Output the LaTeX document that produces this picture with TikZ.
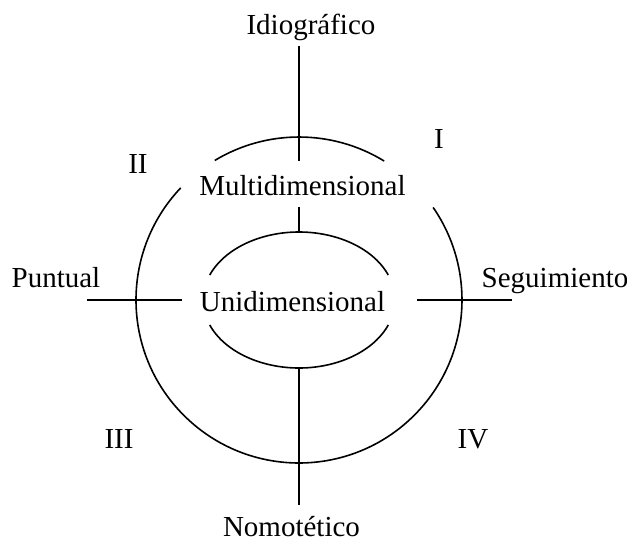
\documentclass[tikz,border=0pt]{standalone}
\usepackage{fontspec}
\setmainfont{Liberation Serif}
\tikzset{
    % Lines
    ring/.style={line width=0.8pt},
    axis line/.style={line width=0.8pt},
    %
    % Labels
    pole label/.style={anchor=base,inner sep=0pt,font=\fontsize{14.5}{17}\selectfont},
    level label/.style={pole label},
    quadrant label/.style={pole label}
}

\begin{document}
\begin{tikzpicture}[x=0.5pt,y=0.5pt]
    \useasboundingbox (-299,-243) rectangle (328,300);
    % outer ring, open round the labels
    \draw[ring] (58.5:163) arc[start angle=58.5,end angle=121.1,radius=163];
    \draw[ring] (136.5:163) arc[start angle=136.5,end angle=394.6,radius=163];
    % inner ring
    \draw[ring] ({96*cos(21.6)},{68*sin(21.6)}) arc[start angle=21.6,end angle=158.4,x radius=96,y radius=68];
    \draw[ring] ({96*cos(201.6)},{68*sin(201.6)}) arc[start angle=201.6,end angle=338.4,x radius=96,y radius=68];
    % labels
    \node[pole label] (idio) at (12,266) {Idiográfico};
    \node[pole label] (nomo) at (-7.5,-236) {Nomotético};
    \node[pole label] (puntual) at (-243,13) {Puntual};
    \node[pole label] (segui) at (256,13) {Seguimiento};
    \node[level label] (multi) at (3.5,105) {Multidimensional};
    \node[level label] (uni) at (-6.5,-11) {Unidimensional};
    \node[quadrant label] (q1) at (140,152) {I};
    \node[quadrant label] (q2) at (-161,127) {II};
    \node[quadrant label] (q3) at (-180,-148) {III};
    \node[quadrant label] (q4) at (174,-148) {IV};
    % axes
    \coordinate (idio foot) at (0,254);
    \coordinate (outer gap) at (0,139);
    \coordinate (multi foot) at (0,93);
    \coordinate (inner top) at (0,68);
    \coordinate (inner bottom) at (0,-68);
    \coordinate (nomo head) at (0,-205);
    \coordinate (puntual end) at (-212,0);
    \coordinate (left gap) at (-117,0);
    \coordinate (right gap) at (118,0);
    \coordinate (segui end) at (213,0);
    \draw[axis line] (idio foot) -- (outer gap);
    \draw[axis line] (multi foot) -- (inner top);
    \draw[axis line] (inner bottom) -- (nomo head);
    \draw[axis line] (puntual end) -- (left gap);
    \draw[axis line] (right gap) -- (segui end);
\end{tikzpicture}
\end{document}
